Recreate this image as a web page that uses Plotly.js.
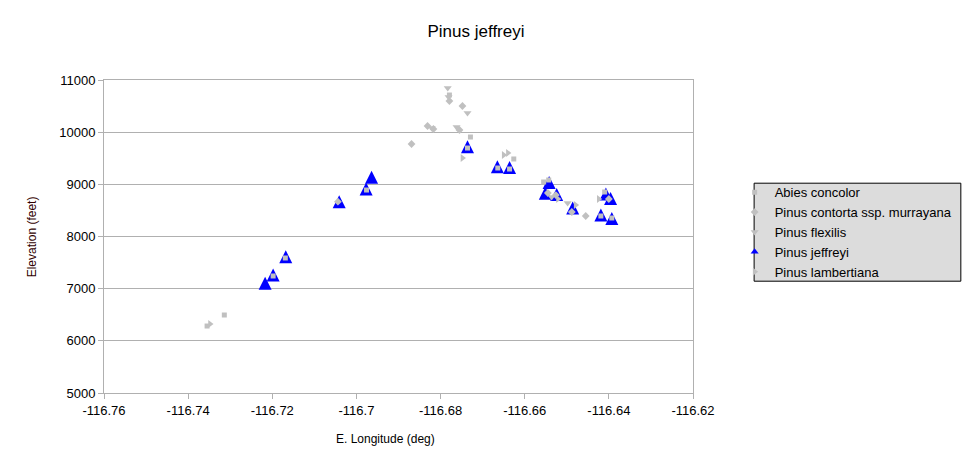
<!DOCTYPE html>
<html>
<head>
<meta charset="utf-8">
<script src="https://cdn.plot.ly/plotly-3.0.1.min.js"></script>
<style>html,body{margin:0;padding:0;background:#fff;}#chart{width:963px;height:467px;}</style>
</head>
<body>
<div id="chart"></div>
<script>
// Data (longitude in deg E, elevation in feet)
const abiesLon = [-116.7314, -116.7355, -116.7198, -116.7169, -116.6976, -116.6779, -116.6729, -116.6736, -116.6664, -116.6636, -116.6626, -116.6555, -116.6543, -116.6419, -116.6393, -116.6410];
const abiesElev = [6495, 6284, 7243, 7588, 8891, 10712, 9907, 9696, 9313, 9294, 9486, 9045, 9083, 8393, 8355, 8853];

const contortaLon = [-116.6869, -116.6748, -116.6817, -116.6755, -116.6831, -116.6779, -116.7044, -116.6545, -116.6526, -116.6455, -116.6488, -116.6400];
const contortaElev = [9773, 10502, 10061, 10042, 10118, 10597, 8667, 8834, 8795, 8393, 8470, 8719];

const flexilisLon = [-116.6783, -116.6781, -116.6736, -116.6762, -116.6821, -116.6498, -116.6536];
const flexilisElev = [10847, 10674, 10367, 10099, 10080, 8642, 8757];

const jeffreyiLon = [-116.7217, -116.7198, -116.7168, -116.7041, -116.6977, -116.6964, -116.6736, -116.6665, -116.6636, -116.6542, -116.6551, -116.6524, -116.6486, -116.6419, -116.6393, -116.6407, -116.6396];
const jeffreyiElev = [7103, 7262, 7613, 8667, 8910, 9134, 9721, 9338, 9323, 9035, 8828, 8805, 8546, 8412, 8345, 8815, 8728];

const lambertianaLon = [-116.7348, -116.6748, -116.6650, -116.6640, -116.6521, -116.6479, -116.6424];
const lambertianaElev = [6323, 9505, 9562, 9601, 8719, 8604, 8719];

const seriesNames = ["Abies concolor", "Pinus contorta ssp. murrayana", "Pinus flexilis", "Pinus jeffreyi", "Pinus lambertiana"];

const xTickVals = [-116.76, -116.74, -116.72, -116.70, -116.68, -116.66, -116.64, -116.62];
const xTickText = ["-116.76", "-116.74", "-116.72", "-116.7", "-116.68", "-116.66", "-116.64", "-116.62"];
const yTickVals = [5000, 6000, 7000, 8000, 9000, 10000, 11000];
const yTickText = ["5000", "6000", "7000", "8000", "9000", "10000", "11000"];

const FONT = "Arial, 'Liberation Sans', sans-serif";
const GRAY = "#c0c0c0";
const BLUE = "#0000ff";

const L = 103.5, R = 693.3, T = 80.3, B = 393.3;
const PW = R - L, PH = B - T;
const px = v => (v - L) / PW;
const py = v => (B - v) / PH;

const Y_RANGE = [5000, 11000];
const TRI_R = 6.5; // half-width (and half-height) of the Jeffreyi triangle, px
// the arrow-up symbol has its tip at the point; this axis is offset by half its height so it sits centred
const triShift = TRI_R * (Y_RANGE[1] - Y_RANGE[0]) / PH;

const traces = [
  { // big Jeffreyi markers, drawn underneath the grey ones
    x: jeffreyiLon, y: jeffreyiElev, type: "scatter", mode: "markers", yaxis: "y2",
    name: seriesNames[3], showlegend: false,
    marker: {symbol: "arrow-up", angle: 0, size: 2 * TRI_R, color: BLUE, line: {width: 0}}
  },
  {
    x: abiesLon, y: abiesElev, type: "scatter", mode: "markers", yaxis: "y3",
    name: seriesNames[0], legendrank: 1,
    marker: {symbol: "square", size: 5, color: GRAY, line: {width: 0}}
  },
  {
    x: contortaLon, y: contortaElev, type: "scatter", mode: "markers", yaxis: "y3",
    name: seriesNames[1], legendrank: 2,
    marker: {symbol: "diamond", size: 6, color: GRAY, line: {width: 0}}
  },
  {
    x: flexilisLon, y: flexilisElev, type: "scatter", mode: "markers", yaxis: "y3",
    name: seriesNames[2], legendrank: 3,
    marker: {symbol: "triangle-down", size: 7, color: GRAY, line: {width: 0}}
  },
  { // legend entry for Jeffreyi (small symbol as in the reference legend)
    x: [null], y: [null], type: "scatter", mode: "markers",
    name: seriesNames[3], legendrank: 4,
    marker: {symbol: "triangle-up", size: 7, color: BLUE, line: {width: 0}}
  },
  {
    x: lambertianaLon, y: lambertianaElev, type: "scatter", mode: "markers", yaxis: "y3",
    name: seriesNames[4], legendrank: 5,
    marker: {symbol: "triangle-right", size: 7, color: GRAY, line: {width: 0}}
  }
];

const layout = {
  width: 963, height: 467,
  margin: {l: L, r: 963 - R, t: T, b: 467 - B, pad: 0, autoexpand: false},
  paper_bgcolor: "#ffffff", plot_bgcolor: "#ffffff",
  font: {family: FONT, size: 13, color: "#000000"},
  title: {text: "Pinus jeffreyi", font: {family: FONT, size: 17, color: "#000000"},
          x: 476 / 963, xanchor: "center", y: 1 - 31 / 467, yanchor: "middle", xref: "container", yref: "container"},
  showlegend: true,
  legend: {
    x: px(735), y: py(232.5), xanchor: "left", yanchor: "middle",
    bgcolor: "rgba(0,0,0,0)", borderwidth: 0,
    font: {family: FONT, size: 13, color: "#000000"},
    tracegroupgap: 0, itemwidth: 30
  },
  xaxis: {
    range: [-116.76, -116.62], tickmode: "array", tickvals: xTickVals, ticktext: xTickText,
    showgrid: false, zeroline: false, showline: true, linecolor: "#b0b0b0", linewidth: 1, mirror: true,
    ticks: "outside", ticklen: 5, tickcolor: "#b0b0b0", tickwidth: 1,
    tickfont: {family: FONT, size: 13, color: "#000000"}
  },
  yaxis: {
    range: Y_RANGE, tickmode: "array", tickvals: yTickVals, ticktext: yTickText,
    showgrid: true, gridcolor: "#b0b0b0", gridwidth: 1, zeroline: false,
    showline: true, linecolor: "#b0b0b0", linewidth: 1, mirror: true,
    ticks: "outside", ticklen: 5, tickcolor: "#b0b0b0", tickwidth: 1,
    tickfont: {family: FONT, size: 13, color: "#000000"}
  },
  yaxis2: {overlaying: "y", range: [Y_RANGE[0] - triShift, Y_RANGE[1] - triShift], visible: false, showgrid: false, zeroline: false},
  yaxis3: {overlaying: "y", range: Y_RANGE, visible: false, showgrid: false, zeroline: false},
  shapes: [{
    type: "rect", xref: "paper", yref: "paper",
    x0: px(754.5), x1: px(961.5), y0: py(281.5), y1: py(183.5),
    fillcolor: "#dcdcdc", line: {color: "#000000", width: 1}, layer: "below"
  }],
  annotations: [
    {text: "E. Longitude (deg)", xref: "paper", yref: "paper", x: px(385), y: py(439),
     xanchor: "center", yanchor: "middle", showarrow: false, font: {family: FONT, size: 12, color: "#000000"}},
    {text: "Elevation (feet)", xref: "paper", yref: "paper", x: px(31), y: py(237),
     xanchor: "center", yanchor: "middle", textangle: -90, showarrow: false, font: {family: FONT, size: 12, color: "#300000"}}
  ]
};

Plotly.newPlot("chart", traces, layout, {displayModeBar: false, staticPlot: true});
</script>
</body>
</html>
